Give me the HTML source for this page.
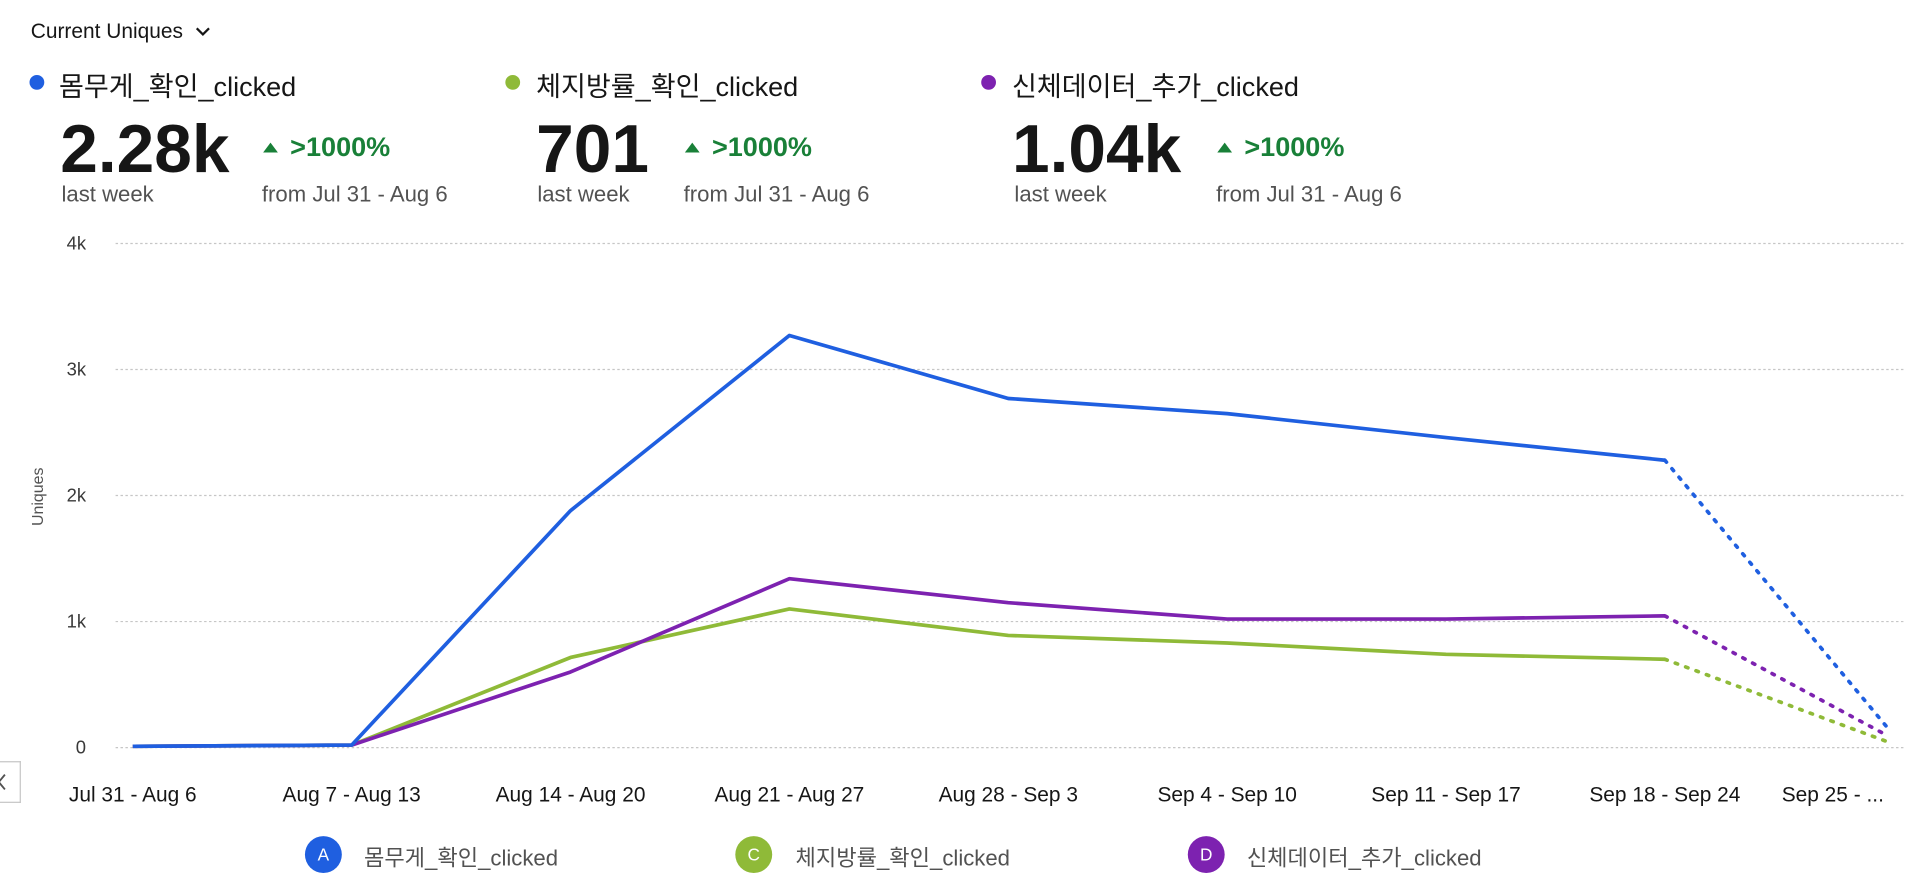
<!DOCTYPE html>
<html><head><meta charset="utf-8">
<style>
html,body{margin:0;padding:0;background:#fff;width:1928px;height:884px;overflow:hidden}
#wrap{position:absolute;left:0;top:0;width:1568px;height:719px;transform:scale(1.2296);transform-origin:0 0;font-family:"Liberation Sans","Noto Sans CJK KR",sans-serif;color:#161616}
.abs{position:absolute;white-space:nowrap}
.dot{position:absolute;width:12px;height:12px;border-radius:50%}
.big{font-size:55px;font-weight:bold;letter-spacing:0}
.pct{font-size:22px;font-weight:bold;color:#198038}
.tri{width:0;height:0;border-left:6px solid transparent;border-right:6px solid transparent;border-bottom:8px solid #198038;position:absolute}
.sub{font-size:18px;color:#525252}
</style></head><body>
<div id="wrap">
<div class="abs" style="left:25px;top:16px;font-size:17px">Current Uniques <svg width="14" height="10" viewBox="0 0 14 10" style="margin-left:4px"><path d="M2 2 L7 7 L12 2" fill="none" stroke="#161616" stroke-width="1.8"/></svg></div>

<div class="dot" style="left:24px;top:61px;background:#1f5fe0"></div>
<div class="abs" style="left:48px;top:53px;font-size:22px">몸무게_확인_clicked</div>
<div class="abs big" style="left:49px;top:89px">2.28k</div>
<div class="tri" style="left:214px;top:116px"></div>
<div class="abs pct" style="left:236px;top:107px">&gt;1000%</div>
<div class="abs sub" style="left:50px;top:148px">last week</div>
<div class="abs sub" style="left:213px;top:148px">from Jul 31 - Aug 6</div>

<div class="dot" style="left:411px;top:61px;background:#8fba38"></div>
<div class="abs" style="left:436px;top:53px;font-size:22px">체지방률_확인_clicked</div>
<div class="abs big" style="left:436px;top:89px">701</div>
<div class="tri" style="left:557px;top:116px"></div>
<div class="abs pct" style="left:579px;top:107px">&gt;1000%</div>
<div class="abs sub" style="left:437px;top:148px">last week</div>
<div class="abs sub" style="left:556px;top:148px">from Jul 31 - Aug 6</div>

<div class="dot" style="left:798px;top:61px;background:#7d22b0"></div>
<div class="abs" style="left:823px;top:53px;font-size:22px">신체데이터_추가_clicked</div>
<div class="abs big" style="left:823px;top:89px">1.04k</div>
<div class="tri" style="left:990px;top:116px"></div>
<div class="abs pct" style="left:1012px;top:107px">&gt;1000%</div>
<div class="abs sub" style="left:825px;top:148px">last week</div>
<div class="abs sub" style="left:989px;top:148px">from Jul 31 - Aug 6</div>

<div class="abs" style="left:-1px;top:619px;width:17px;height:32px;border:1px solid #c6c6c6;border-left:none;background:#fff"><svg width="10" height="14" viewBox="0 0 10 14" style="position:absolute;left:-2px;top:9px"><path d="M7 1 L2 7 L7 13" fill="none" stroke="#525252" stroke-width="1.5"/></svg></div>

<svg id="chart" class="abs" style="left:0;top:0" width="1568" height="719"></svg>

<div class="abs" style="left:248px;top:680px;width:30px;height:30px;border-radius:50%;background:#1f5fe0;color:#fff;font-size:14px;text-align:center;line-height:30px">A</div>
<div class="abs" style="left:296px;top:684px;font-size:18px;color:#525252">몸무게_확인_clicked</div>
<div class="abs" style="left:598px;top:680px;width:30px;height:30px;border-radius:50%;background:#8fba38;color:#fff;font-size:14px;text-align:center;line-height:30px">C</div>
<div class="abs" style="left:647px;top:684px;font-size:18px;color:#525252">체지방률_확인_clicked</div>
<div class="abs" style="left:966px;top:680px;width:30px;height:30px;border-radius:50%;background:#7d22b0;color:#fff;font-size:14px;text-align:center;line-height:30px">D</div>
<div class="abs" style="left:1014px;top:684px;font-size:18px;color:#525252">신체데이터_추가_clicked</div>
</div>
<script>
const categories=["Jul 31 - Aug 6","Aug 7 - Aug 13","Aug 14 - Aug 20","Aug 21 - Aug 27","Aug 28 - Sep 3","Sep 4 - Sep 10","Sep 11 - Sep 17","Sep 18 - Sep 24","Sep 25 - ..."];
const seriesA=[10,20,1880,3270,2770,2650,2460,2280,170];
const seriesC=[10,20,715,1100,890,830,740,701,50];
const seriesD=[10,20,600,1340,1150,1020,1020,1045,100];
const yTicks=[0,1000,2000,3000,4000];
const yTickLabels=["0","1k","2k","3k","4k"];
const NS="http://www.w3.org/2000/svg";
const svg=document.getElementById('chart');
const x0=108,dx=178,yBase=608,yTop=198,yMax=4000;
function xPos(i){return i<categories.length-1?x0+i*dx:x0+(i-1)*dx+180;}
function yPos(v){return yBase-(v/yMax)*(yBase-yTop);}
function mk(t,a){const e=document.createElementNS(NS,t);for(const k in a)e.setAttribute(k,a[k]);svg.appendChild(e);return e;}
yTicks.forEach((v,i)=>{
  const g=mk('line',{x1:94,x2:1550,y1:yPos(v),y2:yPos(v),stroke:'#c6c6c6','stroke-width':1,'stroke-dasharray':'2,2'});
  
  
  const t=mk('text',{x:70,y:yPos(v)+5,'text-anchor':'end','font-size':15,fill:'#393939','font-family':'Liberation Sans, sans-serif'});
  t.textContent=yTickLabels[i];
  
  
});
const yt=mk('text',{x:0,y:0,transform:'translate(35,404) rotate(-90)','text-anchor':'middle','font-size':13,fill:'#525252','font-family':'Liberation Sans, sans-serif'});
yt.textContent='Uniques';


categories.forEach((c,i)=>{
  const last=i===categories.length-1;
  const t=mk('text',{x:last?1449:xPos(i),y:652,'text-anchor':last?'start':'middle','font-size':17,fill:'#161616','font-family':'Liberation Sans, sans-serif'});
  t.textContent=c;
  
  
});
function drawSeries(data,color,name){
  const n=data.length;
  let d='';
  for(let i=0;i<n-1;i++)d+=(i?'L':'M')+xPos(i)+' '+yPos(data[i])+' ';
  const p=mk('path',{d:d,fill:'none',stroke:color,'stroke-width':3,'stroke-linejoin':'round'});
  
  
  const q=mk('line',{x1:xPos(n-2),y1:yPos(data[n-2]),x2:xPos(n-1),y2:yPos(data[n-1]),stroke:color,'stroke-width':3,'stroke-dasharray':'2,7','stroke-linecap':'round'});
  
  
}
drawSeries(seriesC,'#8fba38','series-c');
drawSeries(seriesD,'#7d22b0','series-d');
drawSeries(seriesA,'#1f5fe0','series-a');
</script>
</body></html>
